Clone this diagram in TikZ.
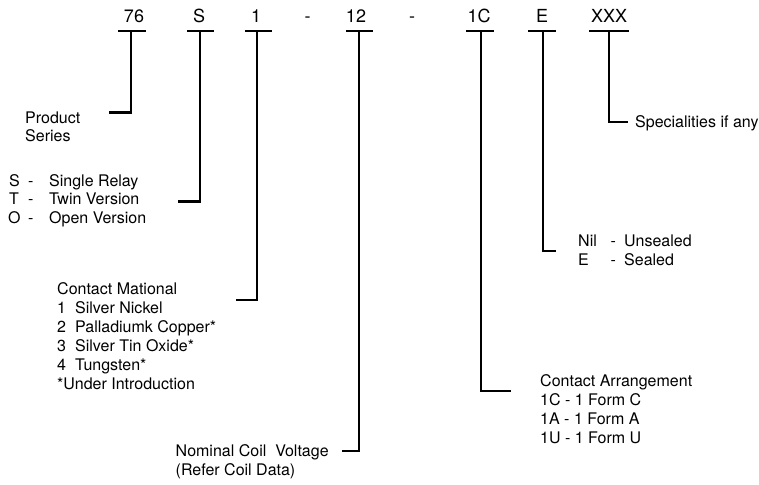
\documentclass[tikz,border=0pt]{standalone}
\usepackage{fontspec}
\setmainfont{TeX Gyre Heros}
\begin{document}
\begin{tikzpicture}[x=1pt,y=-1pt,
  code/.style={anchor=base,inner sep=0pt,font=\fontsize{18}{21}\selectfont},
  txt/.style={anchor=base west,inner sep=0pt,font=\fontsize{16}{19}\selectfont},
  bar/.style={line width=2.8pt},
  lead/.style={line width=2.8pt,line cap=butt,line join=miter}]
\useasboundingbox (0,0) rectangle (759,484);
% code labels
\node[code] (c76) at (134,23) {76};
\node[code] (cS) at (199,23) {S};
\node[code] (c1) at (256,23) {1};
\node[code] (d1) at (307.5,23) {-};
\node[code] (c12) at (356,23) {12};
\node[code] (d2) at (412,23) {-};
\node[code] (c1C) at (479,23) {1C};
\node[code] (cE) at (542,23) {E};
\node[code] (cX) at (609,23) {XXX};
% bars
\coordinate (b76l) at (118,31); \coordinate (b76r) at (146,31); \coordinate (b76) at (131,31);
\coordinate (bSl) at (187,31); \coordinate (bSr) at (214,31); \coordinate (bS) at (200,31);
\coordinate (b1l) at (245,31); \coordinate (b1r) at (272,31); \coordinate (b1) at (257,31);
\coordinate (b12l) at (346,31); \coordinate (b12r) at (373,31); \coordinate (b12) at (359,31);
\coordinate (b1Cl) at (466,31); \coordinate (b1Cr) at (494,31); \coordinate (b1C) at (481,31);
\coordinate (bEl) at (528,31); \coordinate (bEr) at (556,31); \coordinate (bE) at (543,31);
\coordinate (bXl) at (589,31); \coordinate (bXr) at (629,31); \coordinate (bX) at (609,31);
\foreach \n in {76,S,1,12,1C,E,X} \draw[bar] (b\n l) -- (b\n r);
% lead end points
\coordinate (e76) at (109,112.5);
\coordinate (eS) at (178,201.5);
\coordinate (e1) at (236,300);
\coordinate (e12) at (342,451);
\coordinate (e1C) at (511,391);
\coordinate (eE) at (556,251);
\coordinate (eX) at (628,122);
\foreach \n in {76,S,1,12,1C,E,X} \draw[lead] (b\n) |- (e\n);
% descriptions
\node[txt] (ps1) at (25,123) {Product};
\node[txt] (ps2) at (25,141) {Series};
\node[txt] (s1a) at (9,186) {S};
\node[txt] (s1b) at (28,186) {-};
\node[txt] (s1c) at (49,186) {Single Relay};
\node[txt] (s2a) at (9,204.5) {T};
\node[txt] (s2b) at (28,204.5) {-};
\node[txt] (s2c) at (49,204.5) {Twin Version};
\node[txt] (s3a) at (8,223) {O};
\node[txt] (s3b) at (28,223) {-};
\node[txt] (s3c) at (49,223) {Open Version};
\node[txt] (m0) at (57,294) {Contact Mational};
\node[txt] (m1a) at (57,313) {1};
\node[txt] (m1b) at (75,313) {Silver Nickel};
\node[txt] (m2a) at (57,332) {2};
\node[txt] (m2b) at (75,332) {Palladiumk Copper*};
\node[txt] (m3a) at (57,351) {3};
\node[txt] (m3b) at (75,351) {Silver Tin Oxide*};
\node[txt] (m4a) at (57,370) {4};
\node[txt] (m4b) at (75,370) {Tungsten*};
\node[txt] (m5) at (57,389) {*Under Introduction};
\node[txt] (v1) at (175.5,456) {Nominal Coil\ \ Voltage};
\node[txt] (v2) at (175.5,475) {(Refer Coil Data)};
\node[txt] (sp) at (635,127) {Specialities if any};
\node[txt] (n1a) at (578,246) {Nil};
\node[txt] (n1b) at (610.5,246) {-};
\node[txt] (n1c) at (624,246) {Unsealed};
\node[txt] (n2a) at (578,265) {E};
\node[txt] (n2b) at (610.5,265) {-};
\node[txt] (n2c) at (624,265) {Sealed};
\node[txt] (a0) at (540,386) {Contact Arrangement};
\node[txt] (a1) at (540,405) {1C - 1 Form C};
\node[txt] (a2) at (540,424) {1A - 1 Form A};
\node[txt] (a3) at (540,443) {1U - 1 Form U};
\end{tikzpicture}
\end{document}
